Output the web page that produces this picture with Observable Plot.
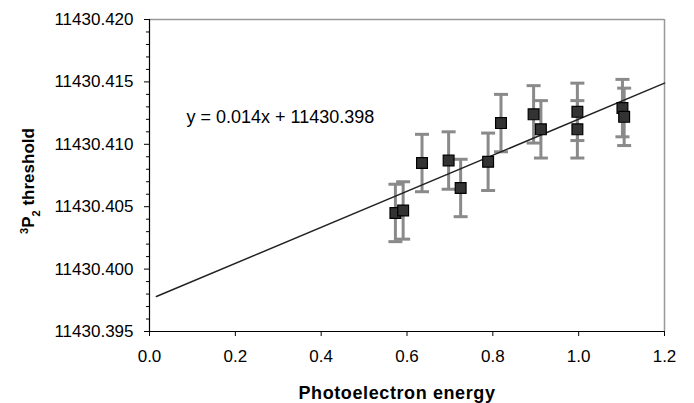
<!DOCTYPE html>
<html>
<head>
<meta charset="utf-8">
<script src="https://cdn.jsdelivr.net/npm/d3@7"></script>
<script src="https://cdn.jsdelivr.net/npm/@observablehq/plot@0.6"></script>
<style>
  body { margin: 0; background: #fff; }
  svg { display: block; }
</style>
</head>
<body>
<div id="chart"></div>
<script>
// ---- data ----
const energy = [0.573, 0.591, 0.635, 0.697, 0.725, 0.789, 0.819, 0.895, 0.912, 0.997, 0.997, 1.102, 1.106];
const threshold = [11430.4045, 11430.4047, 11430.4085, 11430.4087, 11430.4065, 11430.4086, 11430.4117,
                   11430.4124, 11430.4112, 11430.4126, 11430.4112, 11430.4129, 11430.4122];
const errorHalf = [0.0023, 0.0023, 0.0023, 0.0023, 0.0023, 0.0023, 0.0023,
                   0.0023, 0.0023, 0.0023, 0.0023, 0.0023, 0.0023];
const fitX = [0.016, 1.2];
const fitY = [11430.3978, 11430.4149];
const xTicks = [0, 0.2, 0.4, 0.6, 0.8, 1.0, 1.2];
const yTicks = [11430.395, 11430.400, 11430.405, 11430.410, 11430.415, 11430.420];
const yMinorTicks = [11430.396, 11430.397, 11430.398, 11430.399, 11430.401, 11430.402, 11430.403, 11430.404,
                     11430.406, 11430.407, 11430.408, 11430.409, 11430.411, 11430.412, 11430.413, 11430.414,
                     11430.416, 11430.417, 11430.418, 11430.419];
const xDomain = [0, 1.2];
const yDomain = [11430.395, 11430.420];
const equationLabel = [{x: 0.086, y: 11430.4122, text: "y = 0.014x + 11430.398"}];
const xTitle = "Photoelectron energy";

const points = energy.map((x, i) => ({x, y: threshold[i], lo: threshold[i] - errorHalf[i], hi: threshold[i] + errorHalf[i]}));
const fit = fitX.map((x, i) => ({x, y: fitY[i]}));

// horizontal cap symbol for error bars
const capSymbol = {
  draw(ctx, size) {
    const r = Math.sqrt(size / Math.PI);
    ctx.moveTo(-r, 0);
    ctx.lineTo(r, 0);
  }
};

const chart = Plot.plot({
  width: 694,
  height: 403,
  marginLeft: 149,
  marginRight: 30,
  marginTop: 19,
  marginBottom: 72,
  style: {fontFamily: "'Liberation Sans', Arial, sans-serif", fontSize: "17px", color: "black", background: "white"},
  x: {domain: xDomain},
  y: {domain: yDomain},
  marks: [
    // frame
    Plot.ruleY([yDomain[1]], {stroke: "#999", strokeWidth: 1.5}),
    Plot.ruleX([xDomain[1]], {stroke: "#999", strokeWidth: 1.5}),
    // axes
    Plot.axisX({ticks: xTicks, tickFormat: d3.format(".1f"), tickSize: 5, tickPadding: 13, label: null}),
    Plot.axisY({ticks: yTicks, tickFormat: d3.format(".3f"), tickSize: 5, tickPadding: 11, label: null}),
    Plot.axisY({ticks: yMinorTicks, tickSize: 3, text: null, label: null}),
    Plot.ruleX([xDomain[0]], {stroke: "black", strokeWidth: 1.2}),
    Plot.ruleY([yDomain[0]], {stroke: "black", strokeWidth: 1.2}),
    // error bars
    Plot.ruleX(points, {x: "x", y1: "lo", y2: "hi", stroke: "#8a8a8a", strokeWidth: 3}),
    Plot.dot(points, {x: "x", y: "lo", symbol: capSymbol, r: 7, stroke: "#8a8a8a", strokeWidth: 3}),
    Plot.dot(points, {x: "x", y: "hi", symbol: capSymbol, r: 7, stroke: "#8a8a8a", strokeWidth: 3}),
    // fit line
    Plot.line(fit, {x: "x", y: "y", stroke: "#222", strokeWidth: 1.5}),
    // data squares
    Plot.dot(points, {x: "x", y: "y", symbol: "square", r: 6.1, fill: "#333", stroke: "black", strokeWidth: 1.2}),
    // equation
    Plot.text(equationLabel, {x: "x", y: "y", text: "text", textAnchor: "start", fontSize: 18, fill: "black"}),
    // x title
    Plot.text([xTitle], {frameAnchor: "bottom", dx: -10, dy: 62, fontWeight: "bold", fontSize: 18, lineAnchor: "middle", fill: "black"})
  ]
});

document.getElementById("chart").appendChild(chart);

// y-axis title with superscript / subscript
const svg = d3.select(chart);
svg.selectAll("g[aria-label='text'] text").filter(function() { return this.textContent === xTitle; })
  .style("letter-spacing", "0.6px");
const yt = svg.append("text")
  .attr("transform", "translate(28,181) rotate(-90)")
  .attr("text-anchor", "middle")
  .attr("dy", "0.35em")
  .attr("font-weight", "bold")
  .attr("font-size", 17)
  .attr("fill", "black");
yt.append("tspan").attr("font-size", 11).attr("baseline-shift", "super").text("3");
yt.append("tspan").text("P");
yt.append("tspan").attr("font-size", 11).attr("baseline-shift", "sub").text("2");
yt.append("tspan").text(" threshold");
</script>
</body>
</html>
